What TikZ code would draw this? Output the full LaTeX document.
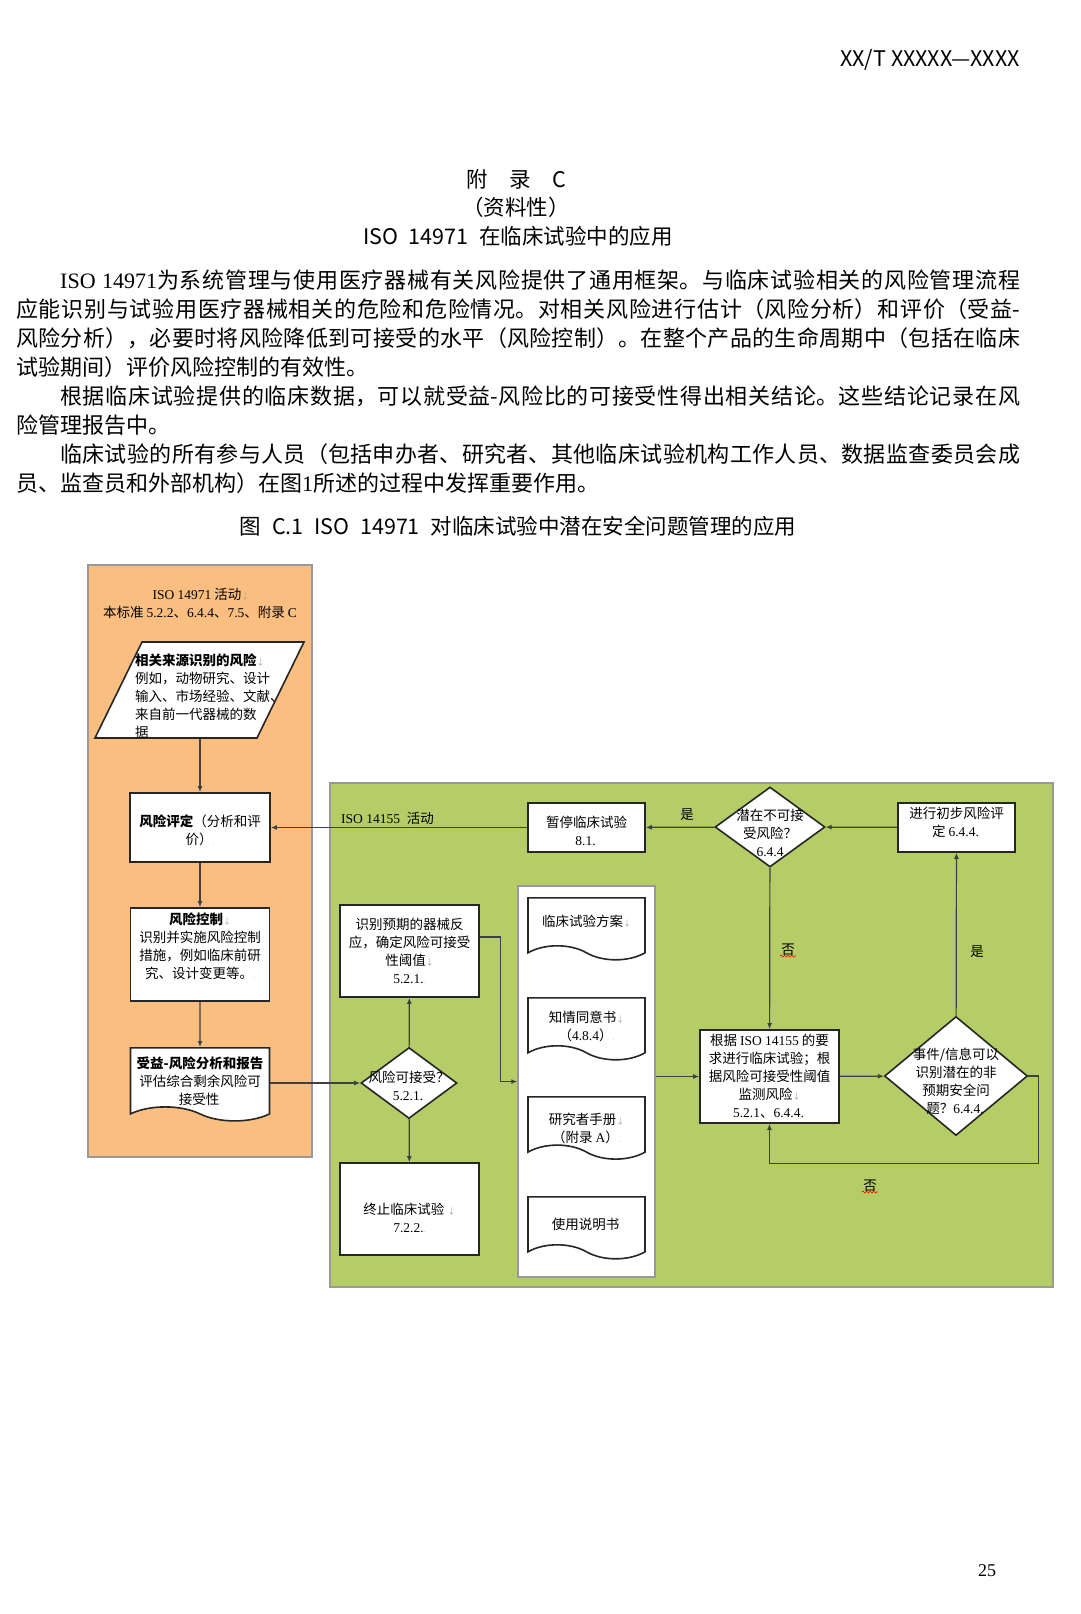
\documentclass[tikz,border=0pt]{standalone}
\usepackage{fontspec}
\setmainfont{Noto Sans CJK SC}
\newfontfamily\latn{Liberation Serif}
\usetikzlibrary{positioning,arrows.meta,shapes.geometric,shapes.symbols,decorations.pathmorphing}
\XeTeXlinebreaklocale "zh"
\XeTeXlinebreakskip=0pt plus 2pt minus 1pt
\definecolor{orng}{RGB}{250,191,128}
\definecolor{grn}{RGB}{180,205,102}
\newcommand\ltn[1]{{\latn #1}}
\newcommand\mkbr{{\color{black!35}\fontsize{8pt}{8pt}\selectfont↓}}
\newcommand\mkpar{{\color{black!35}\fontsize{7pt}{7pt}\selectfont.}}
\newcommand\tpad[1]{\rule{0pt}{#1}}
\newcommand\bpad[1]{\rule[-#1]{0pt}{0pt}}
\newcommand\dgfont{\fontsize{13.5pt}{18pt}\selectfont}
\tikzset{
  zone/.style={draw=black!40, line width=1.5pt, inner sep=0pt},
  proc/.style={draw=black!85, line width=1.6pt, fill=white, inner sep=1pt, align=center, font=\dgfont},
  pline/.style={draw=black!85, line width=1.6pt, fill=white},
  dec/.style={diamond, draw=black!85, line width=1.6pt, fill=white, inner sep=0pt},
  dtext/.style={align=center, font=\dgfont, inner sep=0pt},
  docu/.style={tape, tape bend top=none, tape bend bottom=out and in, tape bend height=14pt,
    draw=black!85, line width=1.6pt, fill=white, align=center, font=\dgfont, inner sep=1pt},
  flow/.style={draw=black!75, line width=1.2pt, -{Latex[length=6pt,width=5pt]}},
  lbl/.style={font=\dgfont, inner sep=1pt},
  note/.style={font=\dgfont, inner sep=0pt, align=center},
  ttl/.style={font=\fontsize{21.5pt}{26pt}\selectfont, inner sep=0pt},
  para/.style={anchor=base west, text width=1004pt, inner sep=0pt, align=justify,
    font=\fontsize{22pt}{29pt}\selectfont},
  squig/.style={draw=red, line width=0.6pt, decorate, decoration={snake, amplitude=1pt, segment length=3.5pt}}
}

\begin{document}
\begin{tikzpicture}[x=1pt,y=-1pt]
\useasboundingbox (0,0) rectangle (1080,1614);
\fill[white] (0,0) rectangle (1080,1614);

% page text
\node[ttl, anchor=east] (hdr) at (1020,60) {XX/T XXXXX—XXXX};
\node[ttl] (annex) at (516,179) {附　录　C};
\node[ttl] (inform) at (516,207) {（资料性）};
\node[ttl] (title) at (518,236) {ISO\hspace{0.5em}14971\hspace{0.5em}在临床试验中的应用};
\node[para] (intro) at (16,288) {%
\noindent\hspace*{2em}\ltn{ISO 14971}为系统管理与使用医疗器械有关风险提供了通用框架。与临床试验相关的风险管理流程\linebreak
应能识别与试验用医疗器械相关的危险和危险情况。对相关风险进行估计（风险分析）和评价（受益-\linebreak
风险分析），必要时将风险降低到可接受的水平（风险控制）。在整个产品的生命周期中（包括在临床\linebreak
试验期间）评价风险控制的有效性。\par
\noindent\hspace*{2em}根据临床试验提供的临床数据，可以就受益-风险比的可接受性得出相关结论。这些结论记录在风\linebreak
险管理报告中。\par
\noindent\hspace*{2em}临床试验的所有参与人员（包括申办者、研究者、其他临床试验机构工作人员、数据监查委员会成\linebreak
员、监查员和外部机构）在图\ltn{1}所述的过程中发挥重要作用。};
\node[ttl] (cap) at (518,526) {图\hspace{0.5em}C.1\hspace{0.5em}ISO\hspace{0.5em}14971\hspace{0.5em}对临床试验中潜在安全问题管理的应用};
\node[font=\latn\fontsize{18pt}{18pt}\selectfont, inner sep=0pt] (pgno) at (987,1571) {25};

% zones
\node[zone, fill=orng, minimum width=224pt, minimum height=592pt] (z14971) at (200,861) {};
\node[zone, fill=grn, minimum width=723pt, minimum height=504pt] (z14155) at (691.5,1035) {};
\node[note] (t14971) at (201,603) {\ltn{ISO 14971} 活动\mkbr\\本标准 \ltn{5.2.2}、\ltn{6.4.4}、\ltn{7.5}、附录 \ltn{C}\mkpar};
\node[note, anchor=west] (t14155) at (341,818) {\ltn{ISO 14155\ \ }活动\mkpar};

% ISO 14971 column
\draw[pline] (142,642) -- (304,642) -- (257,738) -- (95,738) -- cycle;
\node[note, text width=152pt, align=left, minimum height=84pt] (src) at (211,696)
  {\textbf{相关来源识别的风险}\mkbr\\例如，动物研究、设计\\输入、市场经验、文献、\\来自前一代器械的数\\据\mkpar};
\node[proc, minimum width=140pt, minimum height=69pt] (assess) at (200,827.5) {\tpad{17pt}\textbf{风险评定}（分析和评\\价）\mkpar};
\node[proc, minimum width=139pt, minimum height=93pt] (ctrl) at (200,954.5)
  {\textbf{风险控制}\mkbr\\识别并实施风险控制\\措施，例如临床前研\\究、设计变更等。\mkpar\bpad{17pt}};
\node[docu, minimum width=139pt, minimum height=70pt, anchor=north] (benefit) at (200,1047)
  {\tpad{20pt}\textbf{受益-风险分析和报告}\\评估综合剩余风险可\\接受性\mkpar};

% ISO 14155 area
\node[proc, minimum width=117pt, minimum height=49pt] (halt) at (586.5,827.5) {\tpad{19pt}暂停临床试验\\\ltn{8.1.}\mkpar};
\node[dec, minimum width=110pt, minimum height=80pt] (pot) at (770,827) {};
\node[dtext] (pot-t) at (770,833) {潜在不可接\\受风险？\\\ltn{6.4.4}};
\node[proc, minimum width=117pt, minimum height=49pt] (prelim) at (956.5,827.5) {进行初步风险评\\定 \ltn{6.4.4.}\mkpar\bpad{11pt}};
\node[proc, minimum width=139pt, minimum height=92pt] (ident) at (409.5,951)
  {识别预期的器械反\\应，确定风险可接受\\性阈值\mkbr\\\ltn{5.2.1.}\mkpar};
\node[dec, minimum width=96pt, minimum height=71pt] (accept) at (409,1083) {};
\node[dtext] (accept-t) at (409,1086) {风险可接受？\\\ltn{5.2.1.}\mkpar};
\node[proc, minimum width=139pt, minimum height=92pt] (stop) at (409.5,1209) {\tpad{29pt}终止临床试验 \mkbr\\\ltn{7.2.2.}\mkpar};
\node[zone, fill=white, minimum width=137pt, minimum height=391pt] (docs) at (586.5,1081.5) {};
\node[docu, minimum width=117pt, minimum height=62pt, anchor=north] (protocol) at (586.5,897) {临床试验方案\mkbr};
\node[docu, minimum width=117pt, minimum height=62pt, anchor=north] (consent) at (586.5,997) {\tpad{21pt}知情同意书\mkbr\\（\ltn{4.8.4}）\mkpar};
\node[docu, minimum width=117pt, minimum height=62pt, anchor=north] (ib) at (586.5,1096) {\tpad{27pt}研究者手册\mkbr\\（附录 \ltn{A}）\mkpar};
\node[docu, minimum width=117pt, minimum height=62pt, anchor=north] (ifu) at (586.5,1196) {\tpad{19pt}使用说明书\mkpar};
\node[proc, minimum width=139pt, minimum height=93pt] (trial) at (769.5,1076.5)
  {根据 \ltn{ISO 14155} 的要\\求进行临床试验；根\\据风险可接受性阈值\\监测风险\mkbr\\\ltn{5.2.1}、\ltn{6.4.4.}\mkpar};
\node[dec, minimum width=143pt, minimum height=119pt] (event) at (956,1076) {};
\node[dtext] (event-t) at (956,1081) {事件/信息可以\\识别潜在的非\\预期安全问\\题？\ltn{6.4.4.}\mkpar};

% edges
\draw[flow] (src.south -| assess.north) -- (assess.north);
\draw[flow] (assess) -- (ctrl);
\draw[flow] (ctrl) -- (benefit);
\draw[flow] (benefit.east |- accept.west) -- (accept.west);
\draw[flow] (accept) -- (ident);
\draw[flow] (accept) -- (stop);
\draw[flow] ([yshift=14pt]ident.east) -- ++(21pt,0) |- (docs.west);
\draw[flow] (docs.east |- trial.west) -- (trial.west);
\draw[flow] (trial) -- (event);
\draw[flow] (event.east) -- ++(10pt,0) |- ([yshift=-40pt]trial.south) -- (trial.south);
\draw[flow] (event) -- (prelim);
\draw[flow] (prelim) -- (pot);
\draw[flow] (pot) -- (halt);
\draw[flow] (pot) -- (trial);
\draw[flow] (halt) -- (assess);

% labels
\node[lbl] (yes1) at (687,815) {是\rlap{\mkpar}};
\node[lbl] (no1) at (788,950) {否\rlap{\mkpar}};
\node[lbl] (yes2) at (977,952) {是\rlap{\mkpar}};
\node[lbl] (no2) at (870,1186) {否\rlap{\mkpar}};
\draw[squig] ([yshift=1pt]no1.south west) -- ([yshift=1pt]no1.south east);
\draw[squig] ([yshift=1pt]no2.south west) -- ([yshift=1pt]no2.south east);
\end{tikzpicture}
\end{document}
